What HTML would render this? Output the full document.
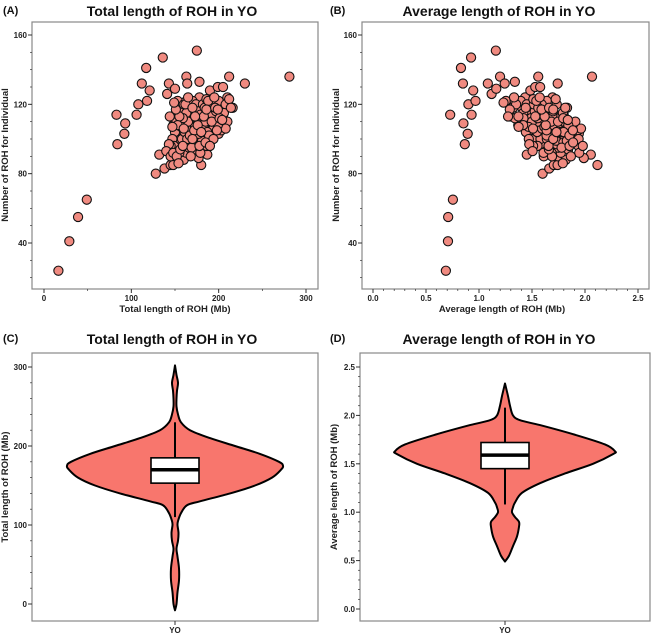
<!DOCTYPE html>
<html><head><meta charset="utf-8"><style>
html,body{margin:0;padding:0;background:#fff;}
svg{display:block;font-family:"Liberation Sans",Arial,sans-serif;}
.tl{font-size:8px;font-weight:bold;fill:#222;}
.al{font-size:9.5px;font-weight:bold;fill:#222;}
.ti{font-size:14px;font-weight:bold;fill:#111;}
.pl{font-size:11px;font-weight:bold;fill:#111;}
</style></head><body>
<svg id="fig" width="651" height="633" viewBox="0 0 651 633"></svg>
<script>
// ---- data: (total length Mb, number of ROH) per individual ----
const totalLen = [16.5,29,39,49,83,84,93,92,106,108,112,117,118,121,136,175,281,230,212,128,132,138,141,143,150,163,164,178,178,190,199,205,210,216,187,180,177,145,148,
150,152,155,158,160,162,165,168,170,172,175,178,180,182,185,188,190,192,195,198,200,202,205,208,210,148,146,150,153,156,160,163,166,170,174,176,180,184,186,188,190,194,196,200,203,206,208,212,214,157,160,163,166,168,171,173,176,179,181,184,187,189,191,193,197,199,153,155,158,161,164,167,169,171,173,175,177,179,181,183,185,187,189,150,147,149,145,143,140,145,148,152,154,156,159,161,163,165,167,169,172,174,177,179,182,184,186,188,162,159,157,155,153,170,168,176,178,180,183,186,192,194,196,198,201,204,195,199,165,160,151,147,144,149,170,173,185,190];
const rohCount = [24,41,55,65,114,97,109,103,114,120,132,141,122,128,147,151,136,132,136,80,91,83,126,132,129,136,132,133,124,128,130,130,124,118,91,85,89,85,85,
100,95,105,110,98,112,104,108,115,101,110,118,106,112,120,108,115,104,118,110,122,108,114,120,110,108,113,112,122,118,120,122,118,122,120,112,100,102,96,100,110,106,112,103,105,115,106,123,118,90,88,92,95,97,99,94,98,92,99,104,112,118,120,114,116,108,97,92,100,104,100,112,106,110,107,104,103,110,115,108,110,104,102,104,100,96,96,97,93,90,92,90,86,94,96,108,115,110,102,95,105,112,116,114,120,118,123,122,120,112,107,113,108,100,90,108,96,104,113,117,110,100,118,105,112,111,124,117,124,106,117,107,113,121,118,113,98,96];
// violin density profiles (value, relative half-width)
const violinCVals = [-8,0,15,30,45,60,70,80,90,100,105,115,125,130,140,150,160,170,175,180,190,200,210,220,230,240,250,260,270,280,290,302];
const violinCDens = [0,1.5,2.5,4,4,2.5,1.5,3,3.5,2.5,3,6,12,25,55,80,97,106,108,104,85,60,35,15,6,3,1.5,1.5,2,3,1.5,0];
const boxC = [110,153,170,185,230]; // whisker lo, q1, median, q3, whisker hi
const violinDVals = [0.49,0.55,0.65,0.75,0.85,0.9,0.95,1.0,1.05,1.1,1.2,1.3,1.4,1.5,1.6,1.63,1.7,1.8,1.9,1.95,2.0,2.1,2.2,2.33];
const violinDDens = [0,4,8,12,14,14,10,7,8,10,17,35,60,88,108,110,100,70,35,15,8,5,3,0];
const boxD = [1.08,1.45,1.59,1.72,2.08];
const ticksA_x=[0,100,200,300], ticksB_x=[0,0.5,1.0,1.5,2.0,2.5], ticksY_AB=[40,80,120,160];
const ticksC=[0,100,200,300], ticksD=[0,0.5,1.0,1.5,2.0,2.5];

const NS="http://www.w3.org/2000/svg", svg=document.getElementById('fig');
function el(tag,attrs,parent,text){const e=document.createElementNS(NS,tag);for(const k in attrs)e.setAttribute(k,attrs[k]);if(text!==undefined)e.textContent=text;(parent||svg).appendChild(e);return e;}
function lin(d0,d1,r0,r1){return v=>r0+(v-d0)/(d1-d0)*(r1-r0);}

function frame(g,x0,y0,x1,y1){const r=el('rect',{x:x0,y:y0,width:x1-x0,height:y1-y0,fill:'none',stroke:'#888','stroke-width':1.2},g);}
function yAxis(g,x0,sy,ticks,minorStep,lo,hi,fmt){
  for(let v=lo;v<=hi+1e-9;v+=minorStep){const y=sy(v);el('line',{x1:x0-2,x2:x0,y1:y,y2:y,stroke:'#333','stroke-width':0.7},g);}
  ticks.forEach(v=>{const y=sy(v);el('line',{x1:x0-4,x2:x0,y1:y,y2:y,stroke:'#333','stroke-width':1},g);
    const t=el('text',{x:x0-5,y:y+3,'text-anchor':'end',class:'tl'},g,fmt(v));});
}
function xAxis(g,y1,sx,ticks,minorStep,lo,hi,fmt){
  for(let v=lo;v<=hi+1e-9;v+=minorStep){const x=sx(v);el('line',{x1:x,x2:x,y1:y1,y2:y1+2,stroke:'#333','stroke-width':0.7},g);}
  ticks.forEach(v=>{const x=sx(v);el('line',{x1:x,x2:x,y1:y1,y2:y1+4,stroke:'#333','stroke-width':1},g);
    const t=el('text',{x:x,y:y1+12,'text-anchor':'middle',class:'tl'},g,fmt(v));});
}
function labels(g,lab,title,cx,ty,xl,xlx,xly,yl,ylx,yly){
  const a=el('text',{x:3,y:ty-2,class:'pl'},g,lab);
  const t=el('text',{x:cx,y:ty,'text-anchor':'middle',class:'ti'},g,title);
  if(xl){const x=el('text',{x:xlx,y:xly,'text-anchor':'middle',class:'al'},g,xl);}
  const y=el('text',{x:0,y:0,'text-anchor':'middle',class:'al',transform:`translate(${ylx},${yly}) rotate(-90)`},g,yl);
}
function dots(g,xs,ys,sx,sy){xs.forEach((v,i)=>{const c=el('circle',{cx:sx(v),cy:sy(ys[i]),r:4.6,fill:'#f08a80',stroke:'#111','stroke-width':1.1},g);
  });}

// Panel A
const gA=el('g',{});
const sxA=lin(0,300,44,306), syA=lin(40,160,243,35);
frame(gA,32,22,318,289);
yAxis(gA,32,syA,ticksY_AB,10,20,160,v=>v);xAxis(gA,289,sxA,ticksA_x,50,0,300,v=>v);
dots(gA,totalLen,rohCount,sxA,syA);
labels(gA,'(A)','Total length of ROH in YO',172,16,'Total length of ROH (Mb)',175,312,'Number of ROH for Individual',8,155);

// Panel B
const gB=el('g',{transform:'translate(327,0)'});
const sxB=lin(0,2.5,46,311), syB=syA;
frame(gB,35,22,322,289);
yAxis(gB,35,syB,ticksY_AB,10,20,160,v=>v);xAxis(gB,289,sxB,ticksB_x,0.1,0,2.5,v=>v.toFixed(1));
dots(gB,totalLen.map((t,i)=>t/rohCount[i]),rohCount,sxB,syB);
labels(gB,'(B)','Average length of ROH in YO',172,16,'Average length of ROH (Mb)',175,312,'Number of ROH for Individual',12,155);

function smoothPath(pts){let d=`M${pts[0][0]},${pts[0][1]}`;for(let i=0;i<pts.length-1;i++){const p0=pts[i-1]||pts[i],p1=pts[i],p2=pts[i+1],p3=pts[i+2]||p2;
  d+=` C${p1[0]+(p2[0]-p0[0])/6},${p1[1]+(p2[1]-p0[1])/6} ${p2[0]-(p3[0]-p1[0])/6},${p2[1]-(p3[1]-p1[1])/6} ${p2[0]},${p2[1]}`;}return d;}
function violin(g,cx,sy,vals,dens,box,bw){
  const right=vals.map((v,i)=>[cx+dens[i],sy(v)]), left=vals.map((v,i)=>[cx-dens[i],sy(v)]).reverse();
  const d=smoothPath(right)+' '+smoothPath(left).replace('M','L')+'Z';
  const p=el('path',{d:d,fill:'#f8766d',stroke:'#000','stroke-width':2,'stroke-linejoin':'round'},g);
  const w=el('line',{x1:cx,x2:cx,y1:sy(box[0]),y2:sy(box[4]),stroke:'#000','stroke-width':2},g);
  const b=el('rect',{x:cx-bw,y:sy(box[3]),width:2*bw,height:sy(box[1])-sy(box[3]),fill:'#fff',stroke:'#000','stroke-width':1.6},g);
  const m=el('line',{x1:cx-bw,x2:cx+bw,y1:sy(box[2]),y2:sy(box[2]),stroke:'#000','stroke-width':3.5},g);
}

// Panel C
const gC=el('g',{});
const syC=lin(0,300,604,367);
frame(gC,32,353,318,621);
yAxis(gC,32,syC,ticksC,20,0,300,v=>v);
violin(gC,175,syC,violinCVals,violinCDens,boxC,24);
el('line',{x1:175,x2:175,y1:621,y2:625,stroke:'#333'},gC);
const xc=el('text',{x:175,y:633,'text-anchor':'middle',class:'tl'},gC,'YO');
labels(gC,'(C)','Total length of ROH in YO',172,344,null,0,0,'Total length of ROH (Mb)',8,487);

// Panel D
const gD=el('g',{transform:'translate(327,0)'});
const syD=lin(0,2.5,609,367);
frame(gD,33,353,323,621);
yAxis(gD,33,syD,ticksD,0.1,0,2.5,v=>v.toFixed(1));
violin(gD,178,syD,violinDVals,violinDDens,boxD,24);
el('line',{x1:178,x2:178,y1:621,y2:625,stroke:'#333'},gD);
const xd=el('text',{x:178,y:633,'text-anchor':'middle',class:'tl'},gD,'YO');
labels(gD,'(D)','Average length of ROH in YO',172,344,null,0,0,'Average length of ROH (Mb)',10,487);
</script>
</body></html>
